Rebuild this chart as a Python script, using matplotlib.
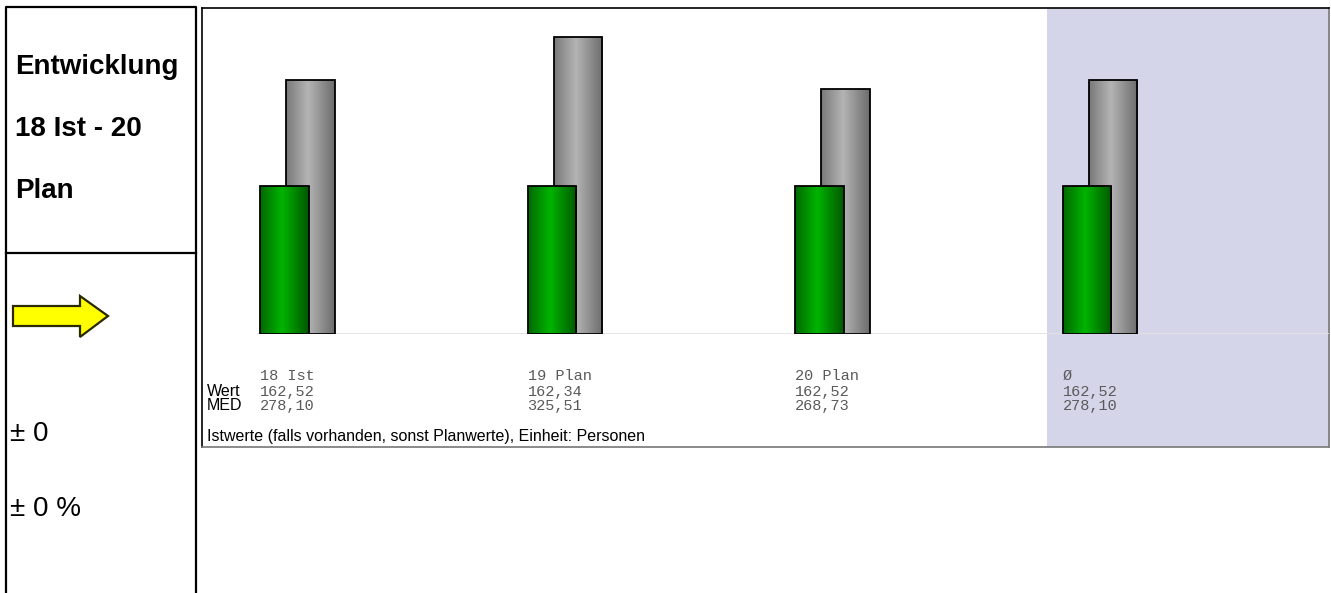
import numpy as np
import matplotlib
matplotlib.use("Agg")
import matplotlib.pyplot as plt
from matplotlib.colors import LinearSegmentedColormap
from matplotlib.patches import Polygon
from matplotlib.transforms import blended_transform_factory

# data
categories = ["18 Ist", "19 Plan", "20 Plan", "Ø"]
wert = [162.52, 162.34, 162.52, 162.52]
med = [278.10, 325.51, 268.73, 278.10]
wert_labels = ["162,52", "162,34", "162,52", "162,52"]
med_labels = ["278,10", "325,51", "268,73", "278,10"]
title_lines = ["Entwicklung", "18 Ist - 20", "Plan"]
diff_abs = "± 0"
diff_pct = "± 0 %"
footnote = "Istwerte (falls vorhanden, sonst Planwerte), Einheit: Personen"

W, H = 1331, 593
fig = plt.figure(figsize=(W / 100, H / 100), dpi=100)
fig.patch.set_facecolor("white")

def box(l, t, r, b):
    # pixel box -> figure fraction rect
    return [l / W, 1 - b / H, (r - l) / W, (b - t) / H]

# left info panel, pixel coordinates
axl = fig.add_axes([0, 0, 1, 1])
axl.set_xlim(0, W)
axl.set_ylim(H, 0)
axl.axis("off")
axl.plot([6, 6, 196, 196], [H, 7, 7, H], color="black", lw=1.6)
axl.plot([6, 196], [253, 253], color="black", lw=1.6)
for i, s in enumerate(title_lines):
    axl.text(15, 67 + 62 * i, s, fontsize=20, fontweight="bold",
             family="Liberation Sans", va="center", ha="left")
arrow = Polygon([(13, 306), (80, 306), (80, 296), (108, 316), (80, 337),
                 (80, 326), (13, 326)], closed=True, facecolor="#ffff00",
                edgecolor="#2a2a00", lw=1.6)
axl.add_patch(arrow)
axl.text(10, 434, diff_abs, fontsize=20, family="Liberation Sans", va="center")
axl.text(10, 509, diff_pct, fontsize=20, family="Liberation Sans", va="center")

# chart frame
xlim = (-0.357, 3.856)
axf = fig.add_axes(box(202, 8, 1329, 447))
axf.set_xlim(*xlim)
axf.set_ylim(0, 1)
axf.set_xticks([])
axf.set_yticks([])
for side, sp in axf.spines.items():
    sp.set_linewidth(1.2)
    sp.set_color("black" if side in ("top", "left") else "#777777")
axf.axvspan(len(categories) - 1 - 0.198, xlim[1], color="#d5d5ea", lw=0)

# bars
ax = fig.add_axes(box(202, 8, 1329, 334))
ax.patch.set_alpha(0)
for sp in ax.spines.values():
    sp.set_visible(False)
ax.set_xticks([])
ax.set_yticks([])

x = np.arange(len(categories))
bw = 0.183
off = 0.0486
ax.axhline(0, xmin=(-0.149 - xlim[0]) / (xlim[1] - xlim[0]), xmax=1,
           color="#e2e2e2", lw=2, zorder=1)
gray_bars = ax.bar(x + off, med, bw, facecolor="none", edgecolor="black",
                   lw=1.3, zorder=3)
green_bars = ax.bar(x - off, wert, bw, facecolor="none", edgecolor="black",
                    lw=1.3, zorder=5)

prof = np.linspace(0, 1, 256)
prof = 1 - np.abs(prof - 0.45) / 0.55
grad = prof.reshape(1, -1)
cm_gray = LinearSegmentedColormap.from_list("g", ["#6c6c6c", "#b4b4b4"])
cm_green = LinearSegmentedColormap.from_list("gr", ["#005800", "#00b400"])
for bars, cm, z in ((gray_bars, cm_gray, 2), (green_bars, cm_green, 4)):
    for b in bars:
        x0, y0 = b.get_x(), b.get_y()
        im = ax.imshow(grad, cmap=cm, aspect="auto", vmin=0, vmax=1,
                       extent=(x0, x0 + b.get_width(), y0, y0 + b.get_height()),
                       zorder=z)
        im.set_clip_path(b)
ax.set_xlim(*xlim)
ax.set_ylim(0, 326 / 0.9133)

# value table under the bars
tr = blended_transform_factory(ax.transData, fig.transFigure)
mono = dict(family="Liberation Mono", fontsize=11, color="#5a5a5a", va="center",
            ha="left", transform=tr)
for i in range(len(categories)):
    xt = x[i] - off - bw / 2
    fig.text(xt, 1 - 376 / H, categories[i], **mono)
    fig.text(xt, 1 - 392 / H, wert_labels[i], **mono)
    fig.text(xt, 1 - 406 / H, med_labels[i], **mono)
sans = dict(family="Liberation Sans", fontsize=11.5, va="center")
fig.text(207 / W, 1 - 392 / H, "Wert", **sans)
fig.text(207 / W, 1 - 406 / H, "MED", **sans)
fig.text(207 / W, 1 - 437 / H, footnote, **sans)

fig.savefig("out.png", dpi=100)
